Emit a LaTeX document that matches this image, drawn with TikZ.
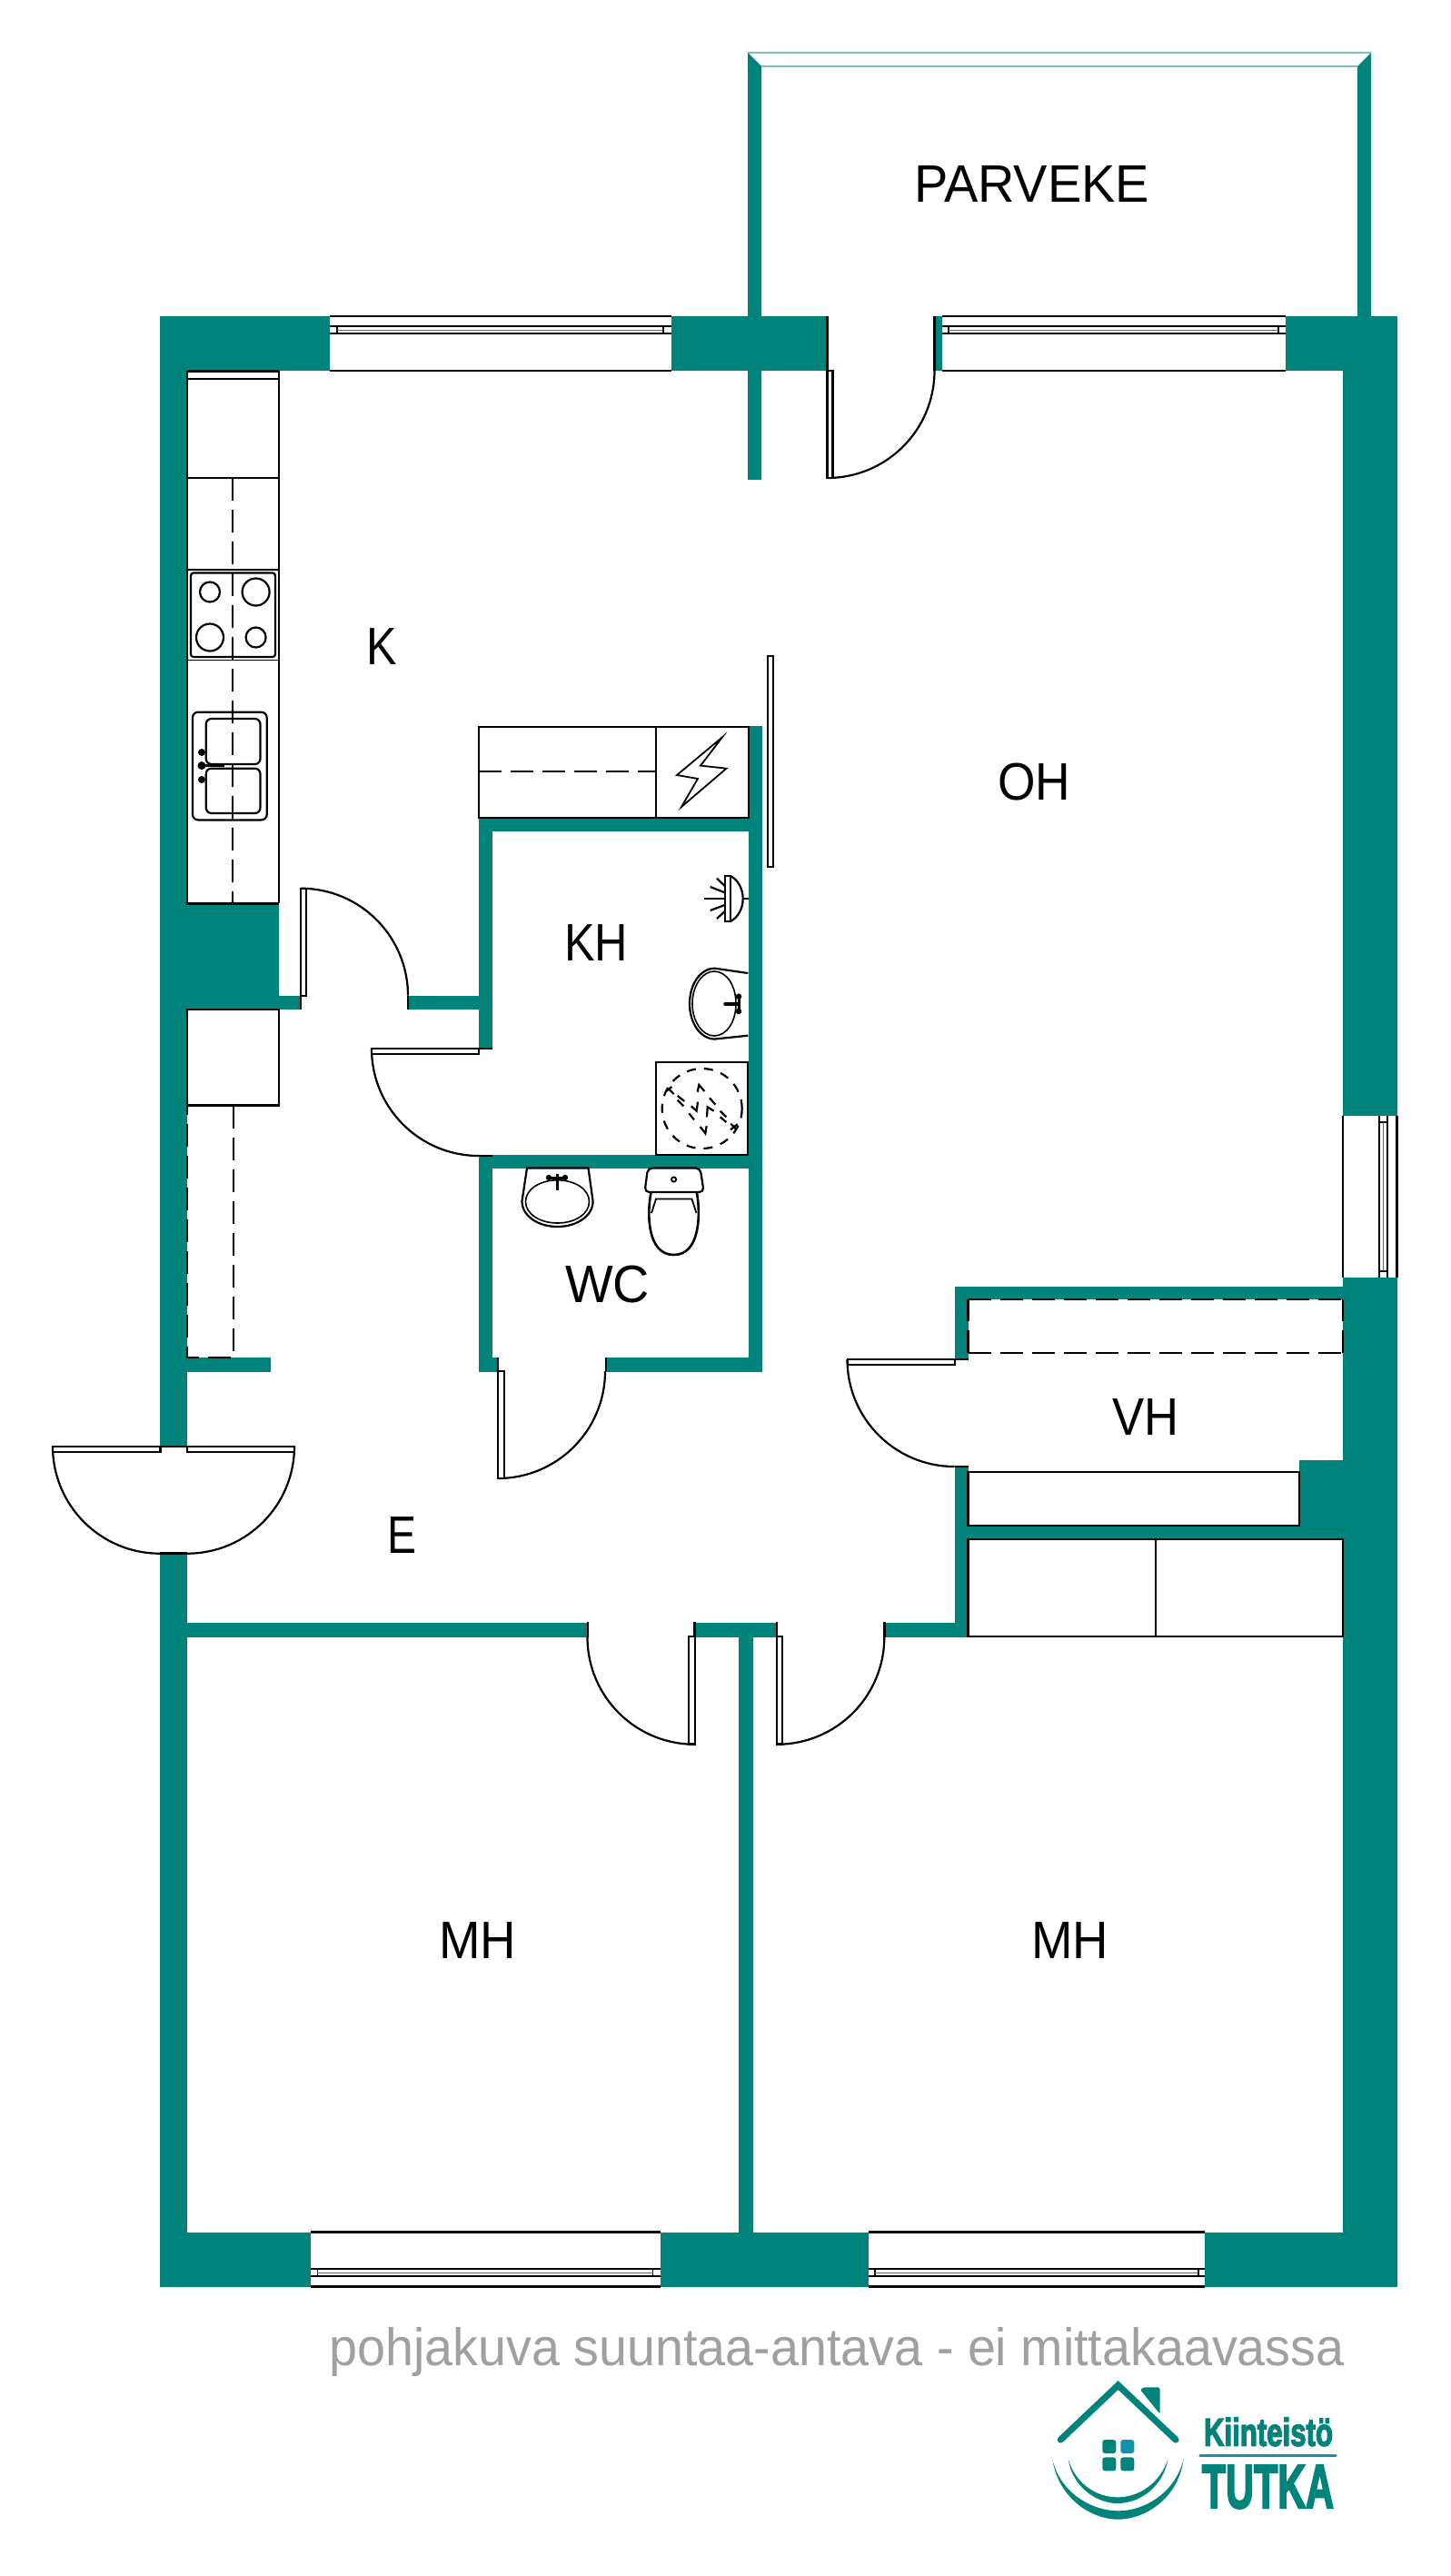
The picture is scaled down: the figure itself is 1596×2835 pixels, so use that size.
\documentclass[tikz,border=0pt]{standalone}
\usepackage{fontspec}
\usepackage{graphicx}
\setmainfont{Liberation Sans}
\newfontfamily\logofont[FakeBold=3.5]{Liberation Sans Bold}
\definecolor{wallc}{RGB}{0,131,123}
\definecolor{edgec}{RGB}{125,190,186}
\definecolor{bluec}{RGB}{20,145,170}
\definecolor{textg}{RGB}{160,160,160}
\tikzset{
  wall/.style={fill=wallc,draw=none},
  fix/.style={draw=black,line width=2.2pt,line join=miter},
  fixw/.style={draw=black,fill=white,line width=2.2pt},
  thick2/.style={draw=black,line width=2.8pt},
  thin2/.style={draw=black,line width=1.6pt},
  dash2/.style={draw=black,line width=2.2pt,dash pattern=on 25pt off 10pt},
  dash3/.style={draw=black,line width=2.2pt,dash pattern=on 10pt off 9pt},
  room/.style={inner sep=0pt,outer sep=0pt,text=black,font=\fontsize{58}{62}\selectfont},
  balc/.style={draw=edgec,line width=1.8pt}
}
% swing of a door: centre, x-sign, y-sign
\newcommand{\swing}[4]{\begin{scope}[shift={(#1,#2)},xscale=#3,yscale=#4]\draw[fix] (0,118) .. controls (65.2,118) and (118,65.2) .. (118,0);\end{scope}}
% horizontal window: x1 x2 ytop y1 y2 ybot xi1 xi2
\newcommand{\hwin}[8]{%
  \draw[thick2] (#1,#3) -- (#2,#3);
  \draw[thick2] (#1,#6) -- (#2,#6);
  \draw[thick2] (#1,#4) -- (#2,#4);
  \draw[thick2] (#1,#5) -- (#2,#5);
  \draw[thin2] (#7,#4) rectangle (#8,#5);
  \draw[draw=black!60,line width=1pt] (#7,{(#4+#5)/2}) -- (#8,{(#4+#5)/2});
}
\begin{document}
\begin{tikzpicture}[x=1pt,y=-1pt]
\useasboundingbox (0,0) rectangle (1596,2835);
\fill[white] (0,0) rectangle (1596,2835);
% ---------- balcony
\draw[balc] (823,58) -- (1509,58);
\draw[balc] (838,73) -- (1494,73);
\fill[wall] (823,58) -- (838,73) -- (838,528) -- (823,528) -- cycle;
\fill[wall] (1509,58) -- (1494,73) -- (1494,348) -- (1509,348) -- cycle;
% ---------- outer walls
\fill[wall] (176,348) rectangle (362.6,408);
\fill[wall] (739,348) rectangle (910.5,408);
\fill[wall] (1028.5,348) rectangle (1036.5,408);
\fill[wall] (1414.6,348) rectangle (1537.5,408);
\fill[wall] (1478.2,348) rectangle (1537.5,1228);
\fill[wall] (1478.2,1406) rectangle (1537.5,2516.7);
\fill[wall] (176,348) rectangle (206,1591.7);
\fill[wall] (176,1709.3) rectangle (206,2516.7);
\fill[wall] (176,2456.7) rectangle (341.5,2516.7);
\fill[wall] (726.6,2456.7) rectangle (955.5,2516.7);
\fill[wall] (1326,2456.7) rectangle (1537.5,2516.7);
% ---------- kitchen block and stubs
\fill[wall] (176,994.4) rectangle (306.6,1111);
\fill[wall] (306.6,1095.5) rectangle (331,1111);
\fill[wall] (449,1095.5) rectangle (527,1111);
\fill[wall] (206,1493.8) rectangle (297.7,1509.5);
% ---------- KH and WC
\fill[wall] (527,900.6) rectangle (542,1154);
\fill[wall] (527,900.6) rectangle (838,915);
\fill[wall] (824,799) rectangle (838.5,1509.5);
\fill[wall] (527,1271.4) rectangle (838.5,1285.5);
\fill[wall] (527,1271.4) rectangle (542.4,1509.5);
\fill[wall] (527,1493.8) rectangle (548,1509.5);
\fill[wall] (667,1493.8) rectangle (838.5,1509.5);
% ---------- VH
\fill[wall] (1050.5,1415.6) rectangle (1478.2,1430);
\fill[wall] (1050.5,1415.6) rectangle (1065.5,1496.4);
\fill[wall] (1050.5,1613.8) rectangle (1065.5,1801.7);
\fill[wall] (973.7,1786) rectangle (1065.5,1801.7);
\fill[wall] (1430,1606.7) rectangle (1478.2,1694);
\fill[wall] (1065.5,1679) rectangle (1478.2,1694);
% ---------- bedrooms
\fill[wall] (206,1786) rectangle (646.7,1801.7);
\fill[wall] (764,1786) rectangle (855.3,1801.7);
\fill[wall] (813.4,1786) rectangle (828.5,2516.7);
% ---------- windows
\hwin{362.6}{739}{348}{359}{367}{408}{370.7}{730}
\hwin{1036.5}{1414.6}{348}{359}{367}{408}{1044}{1407}
\hwin{341.5}{726.6}{2456.7}{2497}{2505}{2516.7}{349.4}{718.6}
\hwin{955.5}{1326}{2456.7}{2497}{2505}{2516.7}{962.7}{1319}
% east window
\draw[fix] (1478.2,1228) -- (1478.2,1406);
\draw[fix] (1537.5,1228) -- (1537.5,1406);
\draw[fix] (1518,1228) -- (1518,1406);
\draw[fix] (1526.7,1228) -- (1526.7,1406);
\draw[thin2] (1518,1235) -- (1526.7,1235);
\draw[thin2] (1518,1399) -- (1526.7,1399);
\draw[draw=black!60,line width=1pt] (1522.3,1235) -- (1522.3,1399);
% ---------- door swings
\swing{910.5}{408}{1}{1}
\swing{331}{1095.7}{1}{-1}
\swing{527}{1154}{-1}{1}
\swing{548}{1509}{1}{1}
\swing{176}{1591.7}{-1}{1}
\swing{206}{1591.7}{1}{1}
\swing{764.5}{1801.7}{-1}{1}
\swing{855.3}{1801.7}{1}{1}
\swing{1050.5}{1496}{-1}{1}
% ---------- door leaves and jambs
\draw[fix] (910.5,348) -- (910.5,408);
\draw[fixw] (910.5,408) rectangle (916.5,526);
\draw[fix] (1028.5,348) -- (1028.5,408);
\draw[fixw] (331,978) rectangle (337,1095.7);
\draw[fix] (331,1095.7) -- (331,1111);
\draw[fix] (449,1095.7) -- (449,1111);
\draw[fixw] (409.3,1154) rectangle (527,1159.6);
\draw[fix] (527,1154) -- (542,1154);
\draw[fix] (527,1272) -- (542,1272);
\draw[fix] (548,1494) -- (548,1509);
\draw[fixw] (548,1509) rectangle (555,1627);
\draw[fix] (667,1494) -- (667,1509);
\draw[fixw] (57.7,1591.7) rectangle (176.4,1598.3);
\draw[fixw] (205.7,1591.7) rectangle (324.3,1598.3);
\draw[fix] (176,1591.7) -- (206,1591.7);
\draw[fix] (176,1709.5) -- (206,1709.5);
\draw[fix] (646.7,1785) -- (646.7,1801.7);
\draw[fix] (764.5,1785) -- (764.5,1801.7);
\draw[fixw] (758,1801.2) rectangle (765,1919.5);
\draw[fix] (855.3,1785) -- (855.3,1801.7);
\draw[fixw] (855.3,1801.2) rectangle (861.3,1919.5);
\draw[fix] (973.5,1785) -- (973.5,1801.7);
\draw[fixw] (932.8,1496) rectangle (1050.8,1502.2);
\draw[fix] (1050.5,1496) -- (1065.5,1496);
\draw[fix] (1050.5,1614) -- (1065.5,1614);
% sliding door
\draw[fixw,line width=1.8pt] (845,721.6) rectangle (851,953.8);
% ---------- kitchen counter
\draw[fix] (206,408.5) -- (306.6,408.5);
\draw[fix] (206,417) -- (306.6,417);
\draw[fix] (206,408) -- (206,994.4);
\draw[fix] (306.6,408) -- (306.6,994.4);
\draw[fix] (206,526) -- (306.6,526);
\draw[fix] (205,994.4) -- (307,994.4);
\draw[dash2] (256,526) -- (256,994.4);
\draw[fix,line width=1.6pt] (206,627) -- (306.6,627);
\draw[fix,line width=1.6pt] (206,726.5) -- (306.6,726.5);
\draw[fix,rounded corners=3pt] (210,630.5) rectangle (303,723);
\draw[fix] (231,651.5) circle[radius=11pt];
\draw[fix] (281.6,651.5) circle[radius=15pt];
\draw[fix] (231,701.5) circle[radius=15pt];
\draw[fix] (281.6,701.5) circle[radius=11pt];
% sink
\draw[fix,rounded corners=6pt] (212,783.7) rectangle (293.7,902.4);
\draw[fix,rounded corners=6pt] (226.7,791) rectangle (286.5,841);
\draw[fix,rounded corners=6pt] (226.7,845.7) rectangle (286.5,895);
\fill (222,828) circle[radius=4pt];
\fill (222,842.6) circle[radius=4.5pt];
\fill (222,858) circle[radius=4pt];
\draw[fix,line width=3.5pt] (222,842.6) -- (247,842.6);
% lower cabinet + dashed wardrobe
\draw[fixw] (206,1111) rectangle (306.7,1216.5);
\draw[dash2] (257,1216.5) -- (257,1493.8) -- (206,1493.8) -- (206,1216.5);
% ---------- storage with meter cupboard
\draw[fix] (527,800) rectangle (824,900);
\draw[fix] (722,800) -- (722,900);
\draw[dash2] (527,849) -- (722,849);
\draw[fix,line width=1.8pt] (795,811.3) -- (745,853) -- (768,857) -- (750,888) -- (799.5,845.7) -- (771,842.6) -- cycle;
% ---------- shower head lamp
\draw[fix] (797.7,964.3) rectangle (804.3,1013.7);
\draw[fix] (804.3,964.3) .. controls (812,968) and (817.7,978) .. (817.7,989) .. controls (817.7,1000) and (812,1010) .. (804.3,1013.7);
\draw[fix] (817.7,989) -- (823.5,989);
\draw[fix] (797.7,989) -- (775,989);
\draw[fix] (797.7,982.3) -- (781.7,976);
\draw[fix] (797.7,975) -- (789,966.7);
\draw[fix] (797.7,996) -- (781.7,1002);
\draw[fix] (797.7,1003) -- (789,1011);
% basin KH
\draw[fix] (823.3,1071) -- (786.7,1065.7) .. controls (771,1065.7) and (759,1083) .. (759,1104.7) .. controls (759,1126) and (771,1143.5) .. (786.7,1143.5) -- (823.3,1139.7);
\draw[fix,line width=1.6pt] (786,1069) .. controls (773,1069) and (762,1085) .. (762,1104.7) .. controls (762,1124) and (773,1140) .. (786,1140) .. controls (800,1140) and (810,1124) .. (810,1104.7) .. controls (810,1085) and (800,1069) .. (786,1069);
\draw[fix,line width=3.5pt,line cap=round] (798,1105) -- (813,1105);
\fill (813,1096.7) circle[radius=3.3pt];
\fill (813,1113) circle[radius=3.3pt];
\draw[fix,line width=3pt] (813,1096.7) -- (813,1113);
% shower
\draw[fixw] (722,1169.3) rectangle (823.3,1270.7);
\draw[dash3] (772.7,1220) circle[radius=44pt];
\begin{scope}[shift={(700,900)},xscale=.3333,yscale=.3333]
\draw[fix] (100,903) -- (118,888);
\draw[fix] (108,895) -- (125,912);
\draw[fix] (137,918) -- (160,936);
\draw[fix] (137,932) -- (157,952);
\draw[fix] (182,952) -- (200,968) -- (204,938);
\draw[fix] (175,976) -- (192,997);
\draw[fix] (203,905) -- (208,882) -- (226,903);
\draw[fix] (243,925) -- (262,947);
\draw[fix] (234,988) -- (236,955) -- (257,968);
\draw[fix] (278,968) -- (298,988);
\draw[fix] (278,988) -- (298,1005);
\draw[fix] (313,1010) -- (332,1030);
\draw[fix] (312,1030) -- (335,1012);
\draw[fix] (212,1020) -- (229,1042) -- (233,1018);
\end{scope}
% ---------- WC basin
\draw[fix] (580,1285.5) -- (647.5,1285.5) -- (652.6,1322) .. controls (652.6,1338) and (635,1350) .. (613.5,1350) .. controls (592,1350) and (574.5,1338) .. (574.5,1322) -- cycle;
\draw[fix,line width=1.6pt] (613.5,1298.8) .. controls (594,1298.8) and (578.5,1309) .. (578.5,1322.4) .. controls (578.5,1336) and (594,1346) .. (613.5,1346) .. controls (633,1346) and (648.5,1336) .. (648.5,1322.4) .. controls (648.5,1309) and (633,1298.8) .. (613.5,1298.8);
\draw[fix,line width=3.5pt] (613.5,1292) -- (613.5,1310);
\draw[fix,line width=3pt] (604,1296) -- (622,1296);
\fill (604,1296) circle[radius=3.2pt];
\fill (622,1296) circle[radius=3.2pt];
% ---------- toilet
\draw[fix,rounded corners=5pt] (713,1285.5) -- (770.6,1285.5) -- (774.7,1312) -- (709.5,1312) -- cycle;
\draw[fix,line width=1.8pt] (741.6,1298) circle[radius=2.6pt];
\draw[fix,line width=2.6pt] (716.4,1313) .. controls (712,1335) and (712,1381) .. (741.6,1381) .. controls (771,1381) and (771,1335) .. (767,1313);
\draw[fix,line width=1.8pt] (717,1335) -- (722,1319.5) -- (761.4,1319.5) -- (766.5,1335);
% ---------- VH fittings
\draw[dash2] (1065.5,1489) -- (1478.2,1489);
\draw[dash2] (1065.5,1430) -- (1478.2,1430);
\draw[dash2] (1065.5,1489) -- (1065.5,1430);
\draw[dash2] (1478.2,1489) -- (1478.2,1430);
\draw[fix] (1065.5,1620) rectangle (1430,1679);
\draw[fix] (1065.5,1694) rectangle (1478.2,1801);
\draw[fix] (1272,1694) -- (1272,1801);
% ---------- room labels
\node[room] (parveke) at (1135.5,203) {\resizebox{259pt}{\height}{PARVEKE}};
\node[room] (keittio) at (420,711.5) {\resizebox{33.5pt}{\height}{K}};
\node[room] (oh) at (1138,860.5) {\resizebox{80pt}{\height}{OH}};
\node[room] (kh) at (656,1037.5) {\resizebox{70pt}{\height}{KH}};
\node[room] (wc) at (668.5,1414) {\resizebox{93pt}{\height}{WC}};
\node[room] (vh) at (1261,1560) {\resizebox{73pt}{\height}{VH}};
\node[room] (e) at (442,1690) {\resizebox{32pt}{\height}{E}};
\node[room] (mh1) at (525.5,2135.5) {\resizebox{85pt}{\height}{MH}};
\node[room] (mh2) at (1177.5,2135.5) {\resizebox{85pt}{\height}{MH}};
% ---------- footer
\node[anchor=base west,inner sep=0pt,text=textg] (note) at (362.5,2603) {\resizebox{1117pt}{\height}{\fontsize{58}{62}\selectfont pohjakuva suuntaa-antava - ei mittakaavassa}};
% ---------- logo
\begin{scope}[shift={(1130,2600)},xscale=.3333,yscale=.3333]
\draw[draw=wallc,line width=7.2pt,line cap=round,line join=miter] (112,255) -- (302,75) -- (492,255);
\fill[wallc,rounded corners=2pt] (375,90) -- (385,82) -- (440,82) -- (440,170) -- cycle;
\fill[wallc,rounded corners=3pt] (250,255) rectangle (295,300);
\fill[bluec,rounded corners=3pt] (310,255) rectangle (355,300);
\fill[wallc,rounded corners=3pt] (250,313) rectangle (295,358);
\fill[wallc,rounded corners=3pt] (310,313) rectangle (355,358);
\fill[wallc] (85,320) .. controls (105,450) and (215,518) .. (302,518) .. controls (390,518) and (500,450) .. (518,320) .. controls (490,430) and (390,490) .. (302,490) .. controls (215,490) and (110,430) .. cycle;
\fill[wallc] (137,318) .. controls (150,410) and (230,465) .. (300,465) .. controls (375,465) and (450,410) .. (467,318) .. controls (440,400) and (370,445) .. (300,445) .. controls (230,445) and (160,400) .. cycle;
\end{scope}
\node[anchor=base,inner sep=0pt,text=wallc] (logo1) at (1396,2691.7) {\resizebox{142pt}{\height}{\logofont\fontsize{43}{46}\selectfont Kiinteistö}};
\draw[draw=bluec,line width=3.5pt,line cap=round] (1321,2702.7) -- (1470,2702.7);
\node[anchor=base,inner sep=0pt,text=wallc] (logo2) at (1395.5,2760) {\resizebox{145pt}{\height}{\logofont\fontsize{68}{72}\selectfont TUTKA}};
\end{tikzpicture}
\end{document}
